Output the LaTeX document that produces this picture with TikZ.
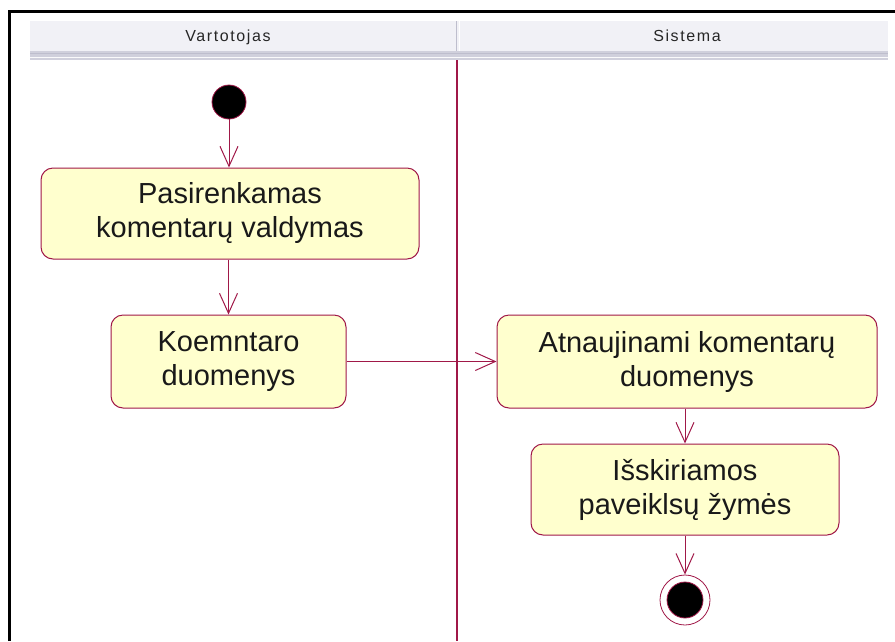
\documentclass[tikz,border=0pt]{standalone}
\usepackage{fontspec}
\setmainfont{Liberation Sans}
\newfontfamily\headfont[LetterSpace=10]{Liberation Sans}
\usetikzlibrary{arrows.meta}
\definecolor{umlred}{RGB}{160,24,72}
\definecolor{actfill}{RGB}{255,255,206}
\definecolor{headfill}{RGB}{241,241,246}
\definecolor{headshade}{RGB}{208,208,220}
\definecolor{headline}{RGB}{190,190,205}
\tikzset{
  act/.style={draw=umlred, line width=1pt, fill=actfill, rounded corners=12pt,
    align=center, font=\fontsize{29}{34}\selectfont, text=black!90, inner sep=0pt},
  flow/.style={draw=umlred, line width=1pt, -{Straight Barb[length=20pt,width=18pt,line width=1pt]}},
  lanehead/.style={font=\headfont\fontsize{16}{18}\selectfont, text=black!85, anchor=base},
}
\begin{document}
\begin{tikzpicture}[x=1pt,y=-1pt]
\useasboundingbox (0,0) rectangle (895,641);
% swimlane header
\fill[headfill] (30,21) rectangle (888,51);
\fill[headshade] (30,51) rectangle (888,60);
\draw[headline] (30,53) -- (888,53);
\draw[white!90!headshade] (30,57) -- (888,57);
\draw[headline, line width=1.5pt] (456.5,21) -- (456.5,51);
\draw[white, line width=1pt] (459,21) -- (459,51);
\node[lanehead] (h1) at (228,41) {Vartotojas};
\node[lanehead] (h2) at (687,41) {Sistema};
% lane separator
\coordinate (ltop) at (457,60);
\coordinate (lbot) at (457,641);
\draw[umlred, line width=1.2pt] (ltop) -- (lbot);
% frame
\draw[line width=3pt] (9,641) -- (9,11) -- (895,11);
% activities
\node[circle, fill=black, draw=umlred, line width=0.8pt, minimum size=34pt, inner sep=0pt] (s) at (229,102) {};
\node[act, minimum width=378pt, minimum height=91pt] (b1) at (230,213.5) {Pasirenkamas\\komentarų valdymas};
\node[act, minimum width=235pt, minimum height=93pt] (b2) at (228.5,361.5) {Koemntaro\\duomenys};
\node[act, minimum width=380pt, minimum height=93pt] (b3) at (687,361.5) {Atnaujinami komentarų\\duomenys};
\node[act, minimum width=308pt, minimum height=91pt] (b4) at (685,489.5) {Išskiriamos\\paveiklsų žymės};
\node[circle, draw=umlred, line width=0.8pt, fill=white, minimum size=50pt, inner sep=0pt] (e) at (685,600) {};
\node[circle, fill=black, draw=umlred, line width=0.8pt, minimum size=36pt, inner sep=0pt] (ein) at (e.center) {};
% flows
\draw[flow] (s.south) -- (s.south |- b1.north);
\draw[flow] (b1.south -| b2.north) -- (b2.north);
\draw[flow] (b2.east) -- (b3.west);
\draw[flow] (b3.south -| b4.north) -- (b4.north);
\draw[flow] (b4.south) -- (e.north);
\end{tikzpicture}
\end{document}
